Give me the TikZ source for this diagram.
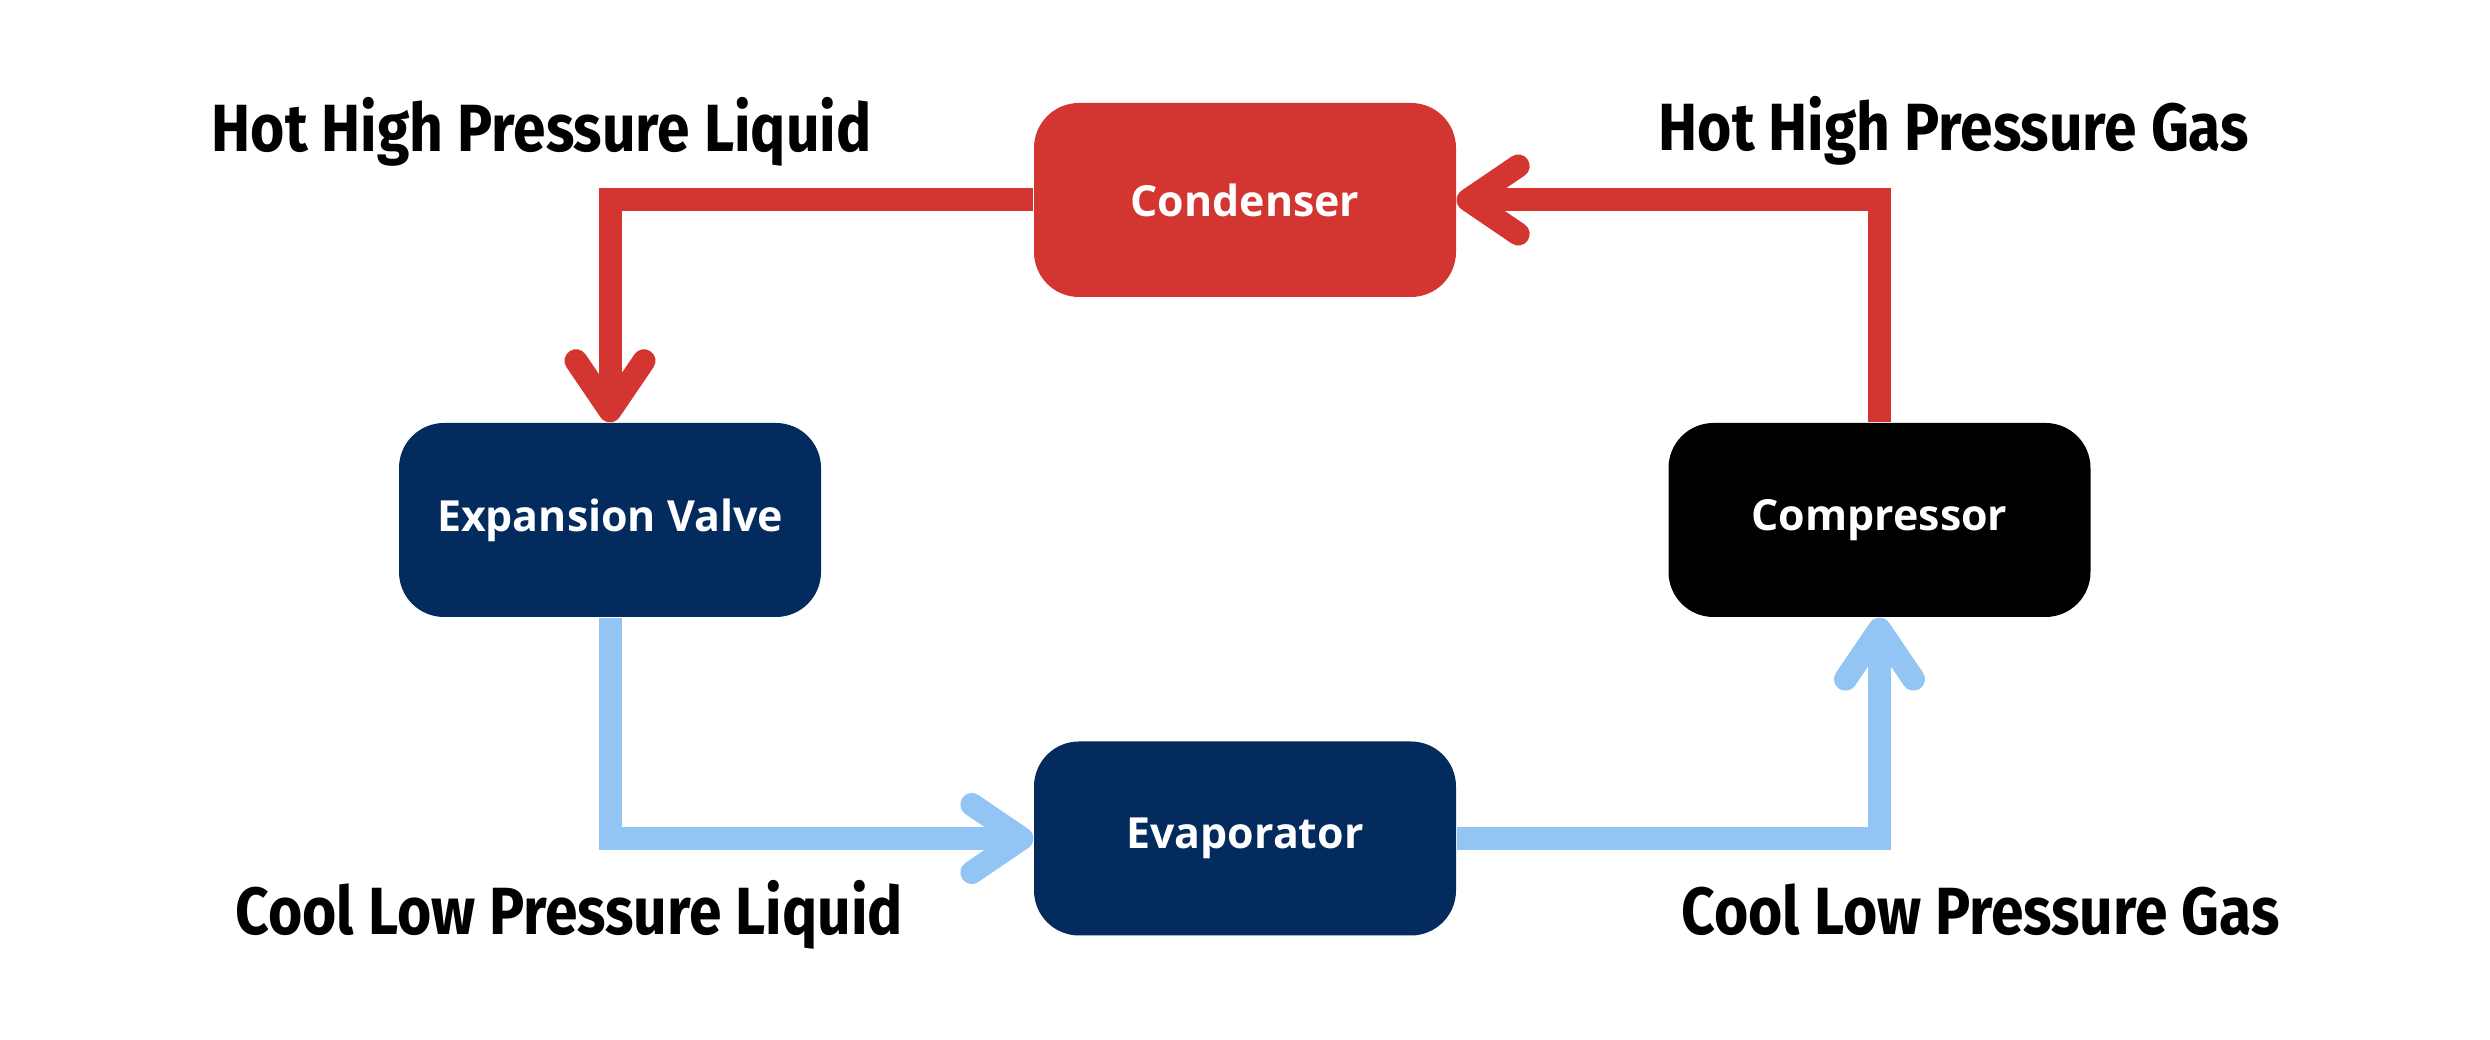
\documentclass[tikz,border=0pt]{standalone}
\usepackage{fontspec}
\setmainfont{Open Sans}
\newfontfamily\handfont[FakeStretch=0.88]{Fira Sans}
\usetikzlibrary{arrows.meta, positioning}
\definecolor{condred}{HTML}{D33530}
\definecolor{navy}{HTML}{032B5E}
\definecolor{skyblue}{HTML}{93C5F4}
\tikzstyle{rect} = [rectangle, rounded corners=0.45cm, minimum width=4.22cm, minimum height=1.94cm, text centered, text=white, font=\bfseries\fontsize{12.2}{14}\selectfont]
\tikzstyle{caption} = [inner sep=0pt, anchor=base west, font=\handfont\bfseries\fontsize{19}{22}\selectfont]
\tikzstyle{arrow} = [line width=0.23cm, line join=miter, -{Straight Barb[length=0.5cm, width=0.68cm, round]}]

\begin{document}
\begin{tikzpicture}
    \fill [white] (0,0) rectangle (24.9,10.4);
    \useasboundingbox (0,0) rectangle (24.9,10.4);
    \node (cond) [rect, fill=condred] at (12.45,8.40) {Condenser};
    \node (valve) [rect, fill=navy] at (6.10,5.20) {Expansion Valve};
    \node (comp) [rect, fill=black] at (18.795,5.20) {Compressor};
    \node (evap) [rect, fill=navy] at (12.45,2.015) {Evaporator};
    \node (hhpl) [caption] at (2.11,8.88) {Hot High Pressure Liquid};
    \node (hhpg) [caption] at (16.58,8.89) {Hot High Pressure Gas};
    \node (clpl) [caption] at (2.35,1.05) {Cool Low Pressure Liquid};
    \node (clpg) [caption] at (16.81,1.05) {Cool Low Pressure Gas};
    \draw [arrow, draw=condred] (cond.west) -| (valve.north);
    \draw [arrow, draw=condred] (comp.north) |- (cond.east);
    \draw [arrow, draw=skyblue] (valve.south) |- (evap.west);
    \draw [arrow, draw=skyblue] (evap.east) -| (comp.south);
\end{tikzpicture}
\end{document}
